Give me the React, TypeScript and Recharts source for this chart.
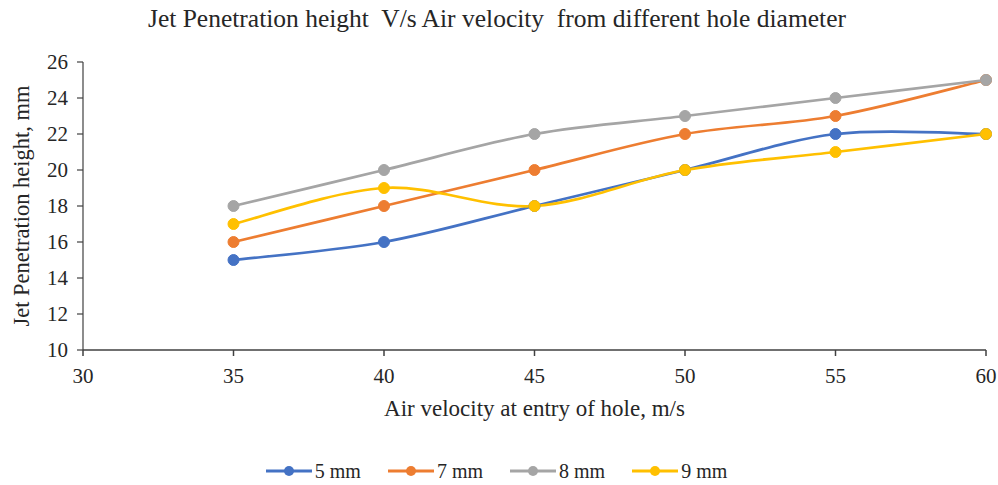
import React from 'react';
import { LineChart, Line, XAxis, YAxis, Legend, Label } from 'recharts';

const velocities = [35, 40, 45, 50, 55, 60];
const h5mm = [15, 16, 18, 20, 22, 22];
const h7mm = [16, 18, 20, 22, 23, 25];
const h8mm = [18, 20, 22, 23, 24, 25];
const h9mm = [17, 19, 18, 20, 21, 22];
const xTicks = [30, 35, 40, 45, 50, 55, 60];
const yTicks = [10, 12, 14, 16, 18, 20, 22, 24, 26];

const seriesDefs = [
  { key: 's5', name: '5 mm', values: h5mm, color: '#4472C4' },
  { key: 's7', name: '7 mm', values: h7mm, color: '#ED7D31' },
  { key: 's8', name: '8 mm', values: h8mm, color: '#A5A5A5' },
  { key: 's9', name: '9 mm', values: h9mm, color: '#FFC000' },
];

const data = velocities.map((v, i) => {
  const row: any = { v };
  seriesDefs.forEach((s) => (row[s.key] = s.values[i]));
  return row;
});

// Excel-like smoothing (Catmull-Rom style Bezier)
const excelCurve = (context: any) => {
  let pts: number[][] = [];
  return {
    areaStart() {},
    areaEnd() {},
    lineStart() {
      pts = [];
    },
    lineEnd() {
      const n = pts.length;
      if (!n) return;
      context.moveTo(pts[0][0], pts[0][1]);
      for (let i = 0; i < n - 1; i++) {
        const p0 = pts[Math.max(i - 1, 0)];
        const p1 = pts[i];
        const p2 = pts[i + 1];
        const p3 = pts[Math.min(i + 2, n - 1)];
        context.bezierCurveTo(
          p1[0] + (p2[0] - p0[0]) / 6,
          p1[1] + (p2[1] - p0[1]) / 6,
          p2[0] - (p3[0] - p1[0]) / 6,
          p2[1] - (p3[1] - p1[1]) / 6,
          p2[0],
          p2[1]
        );
      }
    },
    point(x: number, y: number) {
      pts.push([+x, +y]);
    },
  };
};

const FONT = '"Liberation Serif", "Times New Roman", serif';
const TXT = '#262626';

const LegendContent = () => (
  <div style={{ display: 'flex', justifyContent: 'center', fontFamily: FONT, fontSize: 20, color: TXT, marginLeft: 20, lineHeight: '22px' }}>
    {seriesDefs.map((s) => (
      <div key={s.key} style={{ display: 'flex', alignItems: 'center', marginRight: 26 }}>
        <svg width={48} height={14}>
          <line x1={1} y1={7} x2={47} y2={7} stroke={s.color} strokeWidth={3} />
          <circle cx={24} cy={7} r={5} fill={s.color} />
        </svg>
        <span style={{ marginLeft: 2 }}>{s.name}</span>
      </div>
    ))}
  </div>
);

export default function App() {
  return (
    <div style={{ position: 'absolute', left: 0, top: 0, width: 998, height: 485, background: '#fff' }}>
      <LineChart width={998} height={485} data={data} margin={{ top: 62, right: 12, left: 0, bottom: 0 }}>
        <text x={497} y={27} textAnchor="middle" fontFamily={FONT} fontSize={25.5} fill={TXT} style={{ whiteSpace: 'pre' }}>
          {'Jet Penetration height  V/s Air velocity  from different hole diameter'}
        </text>
        <XAxis
          dataKey="v"
          type="number"
          domain={[30, 60]}
          ticks={xTicks}
          interval={0}
          height={135}
          tickSize={6}
          tickMargin={12}
          stroke="#404040"
          strokeWidth={1.5}
          tick={{ fontFamily: FONT, fontSize: 21, fill: TXT }}
        >
          <Label
            value="Air velocity at entry of hole, m/s"
            position="insideTop"
            offset={50}
            fontSize={23}
            fontFamily={FONT}
            fill={TXT}
          />
        </XAxis>
        <YAxis
          type="number"
          domain={[10, 26]}
          ticks={yTicks}
          interval={0}
          width={83}
          tickSize={6}
          tickMargin={9}
          stroke="#404040"
          strokeWidth={1.2}
          tick={{ fontFamily: FONT, fontSize: 21, fill: TXT }}
        >
          <Label
            value="Jet Penetration height, mm"
            angle={-90}
            position="insideLeft"
            offset={21}
            fontSize={22.5}
            fontFamily={FONT}
            fill={TXT}
            textAnchor="middle"
          />
        </YAxis>
        <Legend
          verticalAlign="bottom"
          content={<LegendContent />}
          wrapperStyle={{ position: 'absolute', top: 460, left: 0, width: 998, height: 0, overflow: 'visible' }}
        />
        {seriesDefs.map((s) => (
          <Line
            key={s.key}
            dataKey={s.key}
            name={s.name}
            type={excelCurve as any}
            stroke={s.color}
            strokeWidth={2.75}
            dot={{ r: 5.5, fill: s.color, stroke: s.color, strokeWidth: 1 }}
            activeDot={false}
            isAnimationActive={false}
          />
        ))}
      </LineChart>
    </div>
  );
}
